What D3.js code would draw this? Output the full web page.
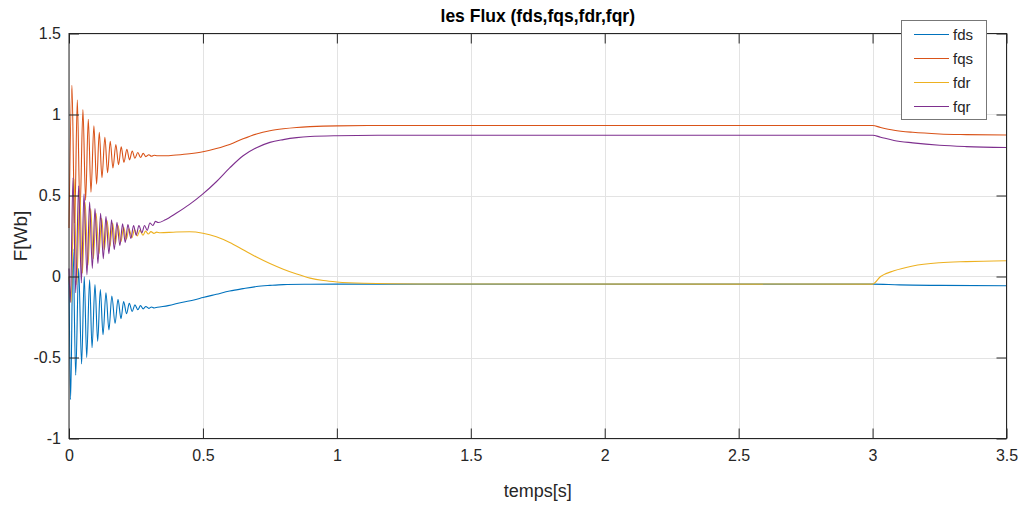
<!DOCTYPE html>
<html>
<head>
<meta charset="utf-8">
<script src="https://cdn.jsdelivr.net/npm/d3@7"></script>
<style>
  body { margin: 0; background: #fff; }
  text { font-family: "Liberation Sans", Arial, sans-serif; fill: #262626; }
</style>
</head>
<body>
<script>
// time [s], flux [Wb]
let fdsData = [
    [0.000, 0.00], [0.006, -0.76], [0.015, 0.17], [0.025, -0.61], [0.036, 0.05],
    [0.047, -0.54], [0.057, 0.00], [0.066, -0.50], [0.077, -0.02], [0.086, -0.44],
    [0.097, -0.05], [0.107, -0.40], [0.117, -0.08], [0.127, -0.36], [0.138, -0.10],
    [0.149, -0.33], [0.160, -0.12], [0.172, -0.29], [0.183, -0.14], [0.194, -0.26],
    [0.204, -0.155], [0.215, -0.23], [0.225, -0.165], [0.236, -0.215], [0.246, -0.175],
    [0.257, -0.205], [0.267, -0.18], [0.277, -0.20], [0.287, -0.185], [0.298, -0.197],
    [0.308, -0.188], [0.318, -0.194], [0.330, -0.19], [0.37, -0.18], [0.42, -0.16],
    [0.47, -0.143], [0.50, -0.13], [0.55, -0.11], [0.60, -0.09], [0.65, -0.075],
    [0.70, -0.062], [0.75, -0.055], [0.80, -0.05], [0.90, -0.048], [1.00, -0.047],
    [3.00, -0.047], [3.10, -0.052], [3.25, -0.055], [3.50, -0.057]
];

let fqsData = [
    [0.000, 0.30], [0.011, 1.18], [0.021, 0.33], [0.031, 1.09], [0.041, 0.40],
    [0.052, 1.03], [0.062, 0.47], [0.072, 0.97], [0.082, 0.52], [0.093, 0.93],
    [0.103, 0.57], [0.113, 0.89], [0.123, 0.61], [0.134, 0.86], [0.144, 0.64],
    [0.154, 0.835], [0.164, 0.67], [0.175, 0.815], [0.185, 0.69], [0.195, 0.80],
    [0.205, 0.705], [0.216, 0.785], [0.226, 0.72], [0.236, 0.775], [0.246, 0.73],
    [0.257, 0.765], [0.267, 0.735], [0.277, 0.76], [0.287, 0.74], [0.298, 0.752],
    [0.308, 0.742], [0.318, 0.748], [0.330, 0.745], [0.36, 0.745], [0.40, 0.75],
    [0.45, 0.758], [0.50, 0.77], [0.55, 0.79], [0.60, 0.815], [0.65, 0.85],
    [0.70, 0.88], [0.75, 0.90], [0.80, 0.912], [0.85, 0.92], [0.90, 0.925],
    [1.00, 0.93], [1.20, 0.932], [3.00, 0.932], [3.03, 0.92], [3.08, 0.903],
    [3.15, 0.89], [3.25, 0.88], [3.35, 0.876], [3.50, 0.873]
];

let fdrData = [
    [0.000, 0.00], [0.008, -0.16], [0.019, 0.60], [0.029, -0.05], [0.040, 0.52],
    [0.050, 0.02], [0.060, 0.46], [0.071, 0.07], [0.081, 0.42], [0.091, 0.11],
    [0.101, 0.39], [0.112, 0.14], [0.122, 0.36], [0.132, 0.165], [0.142, 0.345],
    [0.153, 0.185], [0.163, 0.33], [0.173, 0.20], [0.183, 0.315], [0.194, 0.215],
    [0.204, 0.305], [0.214, 0.23], [0.224, 0.295], [0.235, 0.24], [0.245, 0.29],
    [0.255, 0.25], [0.265, 0.285], [0.276, 0.255], [0.286, 0.28], [0.296, 0.262],
    [0.306, 0.277], [0.317, 0.266], [0.327, 0.274], [0.34, 0.27], [0.40, 0.275],
    [0.45, 0.276], [0.50, 0.267], [0.55, 0.245], [0.60, 0.21], [0.65, 0.165],
    [0.70, 0.12], [0.75, 0.08], [0.80, 0.045], [0.85, 0.015], [0.90, -0.01],
    [0.95, -0.025], [1.00, -0.034], [1.10, -0.042], [1.30, -0.046], [3.00, -0.047],
    [3.03, 0.00], [3.08, 0.035], [3.15, 0.065], [3.25, 0.085], [3.35, 0.092],
    [3.50, 0.097]
];

let fqrData = [
    [0.000, 0.05], [0.005, -0.16], [0.015, 0.61], [0.025, -0.10], [0.036, 0.56],
    [0.046, -0.04], [0.056, 0.51], [0.067, 0.01], [0.077, 0.46], [0.087, 0.05],
    [0.097, 0.42], [0.108, 0.08], [0.118, 0.39], [0.128, 0.11], [0.138, 0.37],
    [0.149, 0.14], [0.159, 0.35], [0.169, 0.165], [0.179, 0.335], [0.190, 0.19],
    [0.200, 0.325], [0.210, 0.21], [0.220, 0.32], [0.231, 0.235], [0.241, 0.315],
    [0.251, 0.255], [0.261, 0.315], [0.272, 0.27], [0.282, 0.315], [0.292, 0.285],
    [0.302, 0.33], [0.313, 0.315], [0.323, 0.34], [0.333, 0.333], [0.36, 0.35],
    [0.40, 0.39], [0.45, 0.445], [0.50, 0.51], [0.55, 0.585],
    [0.60, 0.67], [0.65, 0.745], [0.70, 0.795], [0.75, 0.828], [0.80, 0.845],
    [0.85, 0.857], [0.90, 0.864], [1.00, 0.869], [1.20, 0.872], [3.00, 0.872],
    [3.03, 0.86], [3.08, 0.84], [3.15, 0.825], [3.25, 0.81], [3.35, 0.802],
    [3.50, 0.796]
];

let seriesNames = ["fds", "fqs", "fdr", "fqr"];
let seriesColors = ["#0072BD", "#D95319", "#EDB120", "#7E2F8E"];
let xTicks = [0, 0.5, 1, 1.5, 2, 2.5, 3, 3.5];
let yTicks = [-1, -0.5, 0, 0.5, 1, 1.5];

function main() {
    let allData = [fdsData, fqsData, fdrData, fqrData];

    let left = 69, right = 1006.5, top = 33.5, bottom = 438.5;

    let svg = d3.select("body").append("svg")
        .attr("width", 1024)
        .attr("height", 506);

    let xScale = d3.scaleLinear().domain([0, 3.5]).range([left, right]);
    let yScale = d3.scaleLinear().domain([-1, 1.5]).range([bottom, top]);

    // grid
    svg.append("g").selectAll("line")
        .data(xTicks)
        .enter()
        .append("line")
        .attr("x1", d => Math.round(xScale(d)) + 0.5)
        .attr("x2", d => Math.round(xScale(d)) + 0.5)
        .attr("y1", top)
        .attr("y2", bottom)
        .attr("stroke", "#e3e3e3");

    svg.append("g").selectAll("line")
        .data(yTicks)
        .enter()
        .append("line")
        .attr("x1", left)
        .attr("x2", right)
        .attr("y1", d => Math.round(yScale(d)) + 0.5)
        .attr("y2", d => Math.round(yScale(d)) + 0.5)
        .attr("stroke", "#e3e3e3");

    // curves
    let line = d3.line()
        .x(d => xScale(d[0]))
        .y(d => yScale(d[1]))
        .curve(d3.curveMonotoneX);

    svg.append("g").selectAll("path")
        .data(allData)
        .enter()
        .append("path")
        .attr("d", d => line(d))
        .attr("fill", "none")
        .attr("stroke", (d, i) => seriesColors[i])
        .attr("stroke-width", 1.1);

    // axes, ticks pointing inward
    let fmt = d => String(d);

    let xAxis = d3.axisBottom(xScale).tickValues(xTicks).tickFormat(fmt)
        .tickSizeInner(-10).tickSizeOuter(0).tickPadding(8);
    let yAxis = d3.axisLeft(yScale).tickValues(yTicks).tickFormat(fmt)
        .tickSizeInner(-10).tickSizeOuter(0).tickPadding(8);
    let xTop = d3.axisTop(xScale).tickValues(xTicks).tickFormat("")
        .tickSizeInner(-10).tickSizeOuter(0);
    let yRight = d3.axisRight(yScale).tickValues(yTicks).tickFormat("")
        .tickSizeInner(-10).tickSizeOuter(0);

    let gx = svg.append("g").attr("transform", `translate(0,${bottom})`).call(xAxis);
    let gy = svg.append("g").attr("transform", `translate(${left},0)`).call(yAxis);
    let gt = svg.append("g").attr("transform", `translate(0,${top})`).call(xTop);
    let gr = svg.append("g").attr("transform", `translate(${right},0)`).call(yRight);

    [gx, gy, gt, gr].forEach(g => {
        g.select(".domain").remove();
        g.selectAll("line").attr("stroke", "#262626");
        g.selectAll("text")
            .style("font-family", "'Liberation Sans', Arial, sans-serif")
            .style("font-size", "16px")
            .attr("fill", "#262626");
    });
    gx.selectAll("text").attr("dy", "0.9em");

    // box
    svg.append("rect")
        .attr("x", left)
        .attr("y", top)
        .attr("width", right - left)
        .attr("height", bottom - top)
        .attr("fill", "none")
        .attr("stroke", "#262626")
        .attr("stroke-width", 1);

    // labels
    svg.append("text")
        .attr("x", (left + right) / 2)
        .attr("y", 22)
        .attr("text-anchor", "middle")
        .style("font-size", "17.5px")
        .style("font-weight", "bold")
        .style("fill", "#000")
        .text("les Flux (fds,fqs,fdr,fqr)");

    svg.append("text")
        .attr("x", (left + right) / 2)
        .attr("y", 497)
        .attr("text-anchor", "middle")
        .style("font-size", "18px")
        .text("temps[s]");

    svg.append("text")
        .attr("transform", `translate(27, ${(top + bottom) / 2}) rotate(-90)`)
        .attr("text-anchor", "middle")
        .style("font-size", "19px")
        .text("F[Wb]");

    // legend
    let legend = svg.append("g");
    legend.append("rect")
        .attr("x", 901.5)
        .attr("y", 20.5)
        .attr("width", 85)
        .attr("height", 99)
        .attr("fill", "#fff")
        .attr("stroke", "#777")
        .attr("stroke-width", 1);

    let rows = legend.selectAll("g.item")
        .data(seriesNames)
        .enter()
        .append("g")
        .attr("class", "item")
        .attr("transform", (d, i) => `translate(0, ${34.5 + i * 24})`);

    rows.append("line")
        .attr("x1", 914)
        .attr("x2", 949)
        .attr("stroke", (d, i) => seriesColors[i])
        .attr("stroke-width", 1.1);

    rows.append("text")
        .attr("x", 953)
        .attr("dy", "0.35em")
        .style("font-size", "15px")
        .text(d => d);
}

main()
</script>
</body>
</html>
